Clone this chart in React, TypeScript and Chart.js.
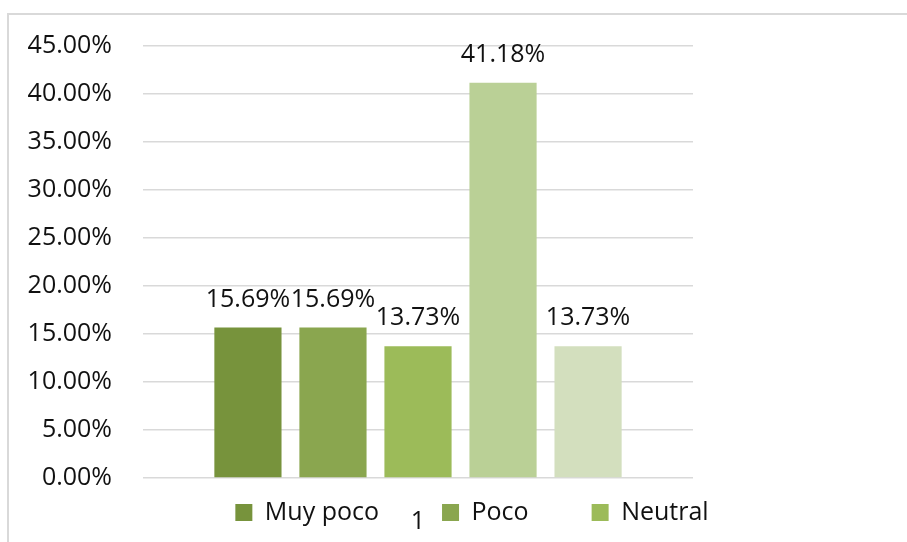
import React, { useEffect, useRef } from 'react';
import { Chart, registerables } from 'chart.js';

Chart.register(...registerables);

// ---- data ----
const categories: string[] = ['1'];
const seriesNames: string[] = ['Muy poco', 'Poco', 'Neutral', 'Bastante', 'Mucho'];
const seriesValues: number[] = [15.69, 15.69, 13.73, 41.18, 13.73];
const seriesColors: string[] = ['#77933C', '#8AA64F', '#9CBB59', '#BAD096', '#D3DFBE'];
const legendShown: number = 3;
const yMin = 0;
const yMax = 45;
const yStep = 5;

const FONT = '"Open Sans", "Noto Sans", sans-serif';
const FONT_SIZE = 25;
const TEXT = '#111111';
const GRID = '#d9d9d9';

const fmt = (v: number) => v.toFixed(2) + '%';

const dataLabels = {
  id: 'dataLabels',
  afterDatasetsDraw(chart: any) {
    const ctx = chart.ctx;
    ctx.save();
    ctx.font = `${FONT_SIZE}px ${FONT}`;
    ctx.fillStyle = TEXT;
    ctx.textAlign = 'center';
    ctx.textBaseline = 'middle';
    chart.data.datasets.forEach((ds: any, i: number) => {
      const meta = chart.getDatasetMeta(i);
      meta.data.forEach((el: any, j: number) => {
        ctx.fillText(fmt(ds.data[j]), el.x, el.y - 28);
      });
    });
    ctx.restore();
  },
};

// places the legend row on the same line as the category label
const legendRow = {
  id: 'legendRow',
  afterLayout(chart: any, _args: any, opts: any) {
    const lg = chart.legend;
    if (!lg) return;
    const pad = lg.options.labels.padding;
    const dy = opts.rowTop - (lg.top + pad);
    lg.top += dy;
    lg.bottom = chart.height;
    lg.height = lg.bottom - lg.top;
    const dx = opts.centerX - (lg.left + lg.right) / 2;
    lg.left += dx;
    lg.right += dx;
  },
};

export default function App() {
  const ref = useRef<HTMLCanvasElement | null>(null);

  useEffect(() => {
    if (!ref.current) return;
    const chart = new Chart(ref.current, {
      type: 'bar',
      data: {
        labels: categories,
        datasets: seriesNames.map((name, i) => ({
          label: name,
          data: [seriesValues[i]],
          backgroundColor: seriesColors[i],
          borderWidth: 0,
          categoryPercentage: 0.773,
          barPercentage: 0.79,
        })),
      },
      options: {
        animation: false,
        responsive: true,
        maintainAspectRatio: false,
        layout: { padding: { top: 45, left: 0, right: 0, bottom: 0 } },
        font: { family: FONT, size: FONT_SIZE },
        scales: {
          x: {
            grid: { display: false },
            border: { display: false },
            ticks: { color: TEXT, padding: 21, font: { family: FONT, size: FONT_SIZE } },
            afterFit(scale: any) {
              scale.height = 63;
            },
          },
          y: {
            min: yMin,
            max: yMax,
            grid: { color: GRID, lineWidth: 1.5, drawTicks: false },
            border: { display: false },
            ticks: {
              stepSize: yStep,
              padding: 31,
              color: TEXT,
              font: { family: FONT, size: FONT_SIZE },
              callback: (v: any) => fmt(Number(v)),
            },
            afterFit(scale: any) {
              scale.width = 143;
            },
          },
          yR: {
            type: 'linear',
            position: 'right',
            display: true,
            grid: { display: false },
            border: { display: false },
            ticks: { display: false },
            afterFit(scale: any) {
              scale.width = 214;
            },
          },
        },
        plugins: {
          tooltip: { enabled: false },
          legend: {
            position: 'bottom',
            maxHeight: 1,
            labels: {
              boxWidth: 17,
              boxHeight: 17,
              padding: 63,
              color: TEXT,
              font: { family: FONT, size: FONT_SIZE },
              filter: (item: any) => item.datasetIndex < legendShown,
            },
          },
          legendRow: { rowTop: 500, centerX: 472 },
        } as any,
      },
      plugins: [dataLabels, legendRow],
    } as any);
    return () => chart.destroy();
  }, []);

  return (
    <div
      style={{
        position: 'fixed',
        left: 0,
        top: 0,
        width: 907,
        height: 542,
        overflow: 'hidden',
        background: '#ffffff',
      }}
    >
      <div
        style={{
          position: 'absolute',
          left: 7,
          top: 13,
          width: 1000,
          height: 700,
          border: `2px solid ${GRID}`,
        }}
      />
      <canvas ref={ref} style={{ position: 'absolute', left: 0, top: 0 }} />
    </div>
  );
}
